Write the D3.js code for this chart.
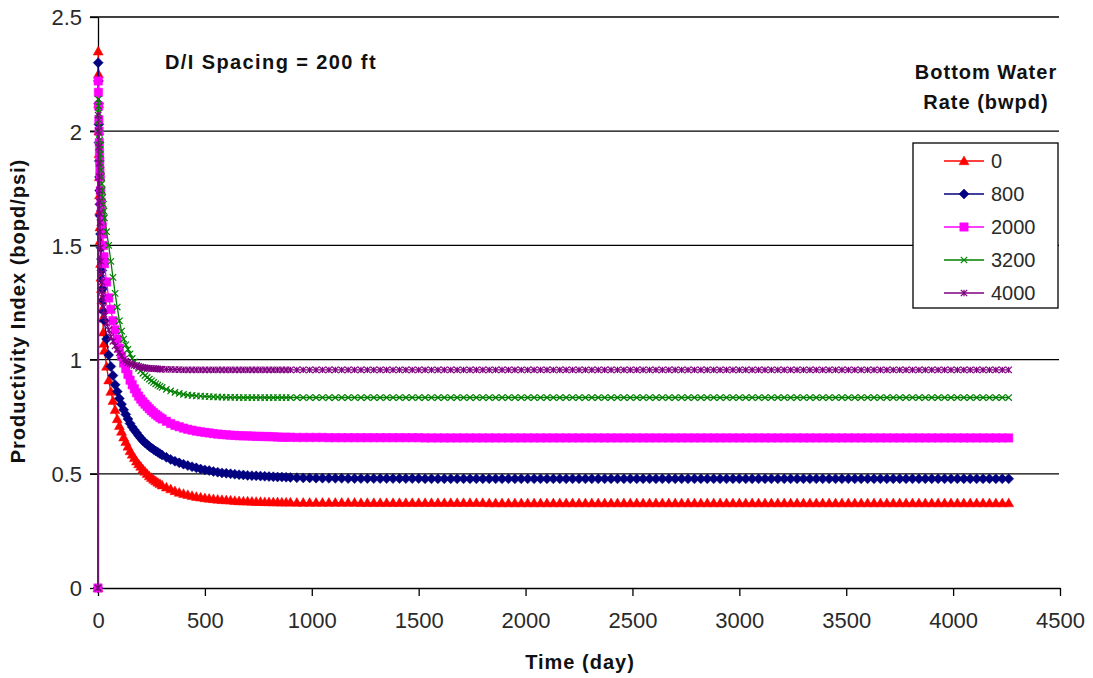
<!DOCTYPE html>
<html>
<head>
<meta charset="utf-8">
<script src="https://cdn.jsdelivr.net/npm/d3@7"></script>
<style>
  html, body { margin: 0; padding: 0; background: #fff; }
  svg { display: block; font-family: "Liberation Sans", Arial, sans-serif; }
</style>
</head>
<body>
<svg id="chart" width="1093" height="678"></svg>
<script>
// ---------------- DATA ----------------
const days = [0,1,2,3,4,5,6,7,8,9,10,12,14,16,18,20,22,25,28,
  30,40,50,60,70,80,90,100,110,120,130,140,150,160,170,180,190,200,210,220,230,240,250,260,270,280,290,300,
  320,340,360,380,400,420,440,460,480,500,520,540,560,580,600,620,640,660,680,700,720,740,760,780,800,820,840,860,880,900,
  930,960,990,1020,1050,1080,1110,1140,1170,1200,
  1230,1260,1290,1320,1350,1380,1410,1440,1470,1500,
  1530,1560,1590,1620,1650,1680,1710,1740,1770,1800,
  1830,1860,1890,1920,1950,1980,2010,2040,2070,2100,
  2130,2160,2190,2220,2250,2280,2310,2340,2370,2400,
  2430,2460,2490,2520,2550,2580,2610,2640,2670,2700,
  2730,2760,2790,2820,2850,2880,2910,2940,2970,3000,
  3030,3060,3090,3120,3150,3180,3210,3240,3270,3300,
  3330,3360,3390,3420,3450,3480,3510,3540,3570,3600,
  3630,3660,3690,3720,3750,3780,3810,3840,3870,3900,
  3930,3960,3990,4020,4050,4080,4110,4140,4170,4200,
  4230,4260];

const pi0 = [0,2.35,2.25,2.12,2.0,1.9,1.8,1.72,1.65,1.58,1.52,1.42,1.36,1.31,1.26,1.22,1.18,1.12,1.07,
  1.04,0.97,0.91,0.86,0.82,0.78,0.74,0.71,0.685,0.66,0.64,0.62,0.60,0.585,0.57,0.555,0.543,0.532,0.52,0.51,0.50,0.49,0.483,0.475,0.468,0.462,0.456,0.45,
  0.441,0.433,0.425,0.418,0.413,0.408,0.404,0.400,0.397,0.394,0.392,0.39,0.388,0.386,0.385,0.384,0.382,0.381,0.38,0.38,0.379,0.378,0.378,0.377,0.377,0.376,0.376,0.375,0.375,0.375,
  0.374,0.374,0.374,0.374,0.374,0.374,0.374,0.374,0.374,0.374,
  0.373,0.373,0.373,0.373,0.373,0.373,0.373,0.373,0.373,0.373,
  0.373,0.373,0.373,0.373,0.373,0.373,0.373,0.373,0.373,0.373,
  0.372,0.372,0.372,0.372,0.372,0.372,0.372,0.372,0.372,0.372,
  0.372,0.372,0.372,0.372,0.372,0.372,0.372,0.372,0.372,0.372,
  0.372,0.372,0.372,0.372,0.372,0.372,0.372,0.372,0.372,0.372,
  0.372,0.372,0.372,0.372,0.372,0.372,0.372,0.372,0.372,0.372,
  0.372,0.372,0.372,0.372,0.372,0.372,0.372,0.372,0.372,0.372,
  0.372,0.372,0.372,0.372,0.372,0.372,0.372,0.372,0.372,0.372,
  0.372,0.372,0.372,0.372,0.372,0.372,0.372,0.372,0.372,0.372,
  0.372,0.372,0.372,0.372,0.372,0.372,0.372,0.372,0.372,0.372,
  0.372,0.372];

const pi800 = [0,2.30,2.22,2.12,2.03,1.95,1.87,1.80,1.74,1.68,1.63,1.55,1.49,1.44,1.39,1.35,1.31,1.26,1.21,
  1.17,1.09,1.02,0.97,0.93,0.89,0.86,0.83,0.805,0.78,0.76,0.74,0.72,0.705,0.692,0.68,0.667,0.656,0.645,0.636,0.628,0.62,0.613,0.606,0.60,0.594,0.588,0.582,
  0.572,0.563,0.555,0.548,0.542,0.536,0.531,0.526,0.521,0.517,0.514,0.51,0.507,0.504,0.502,0.50,0.498,0.496,0.495,0.493,0.492,0.491,0.49,0.489,0.488,0.487,0.486,0.486,0.485,0.484,
  0.483,0.482,0.482,0.481,0.481,0.480,0.480,0.480,0.479,0.479,
  0.479,0.479,0.479,0.479,0.479,0.479,0.479,0.479,0.479,0.479,
  0.478,0.478,0.478,0.478,0.478,0.478,0.478,0.478,0.478,0.478,
  0.478,0.478,0.478,0.478,0.478,0.478,0.478,0.478,0.478,0.478,
  0.478,0.478,0.478,0.478,0.478,0.478,0.478,0.478,0.478,0.478,
  0.478,0.478,0.478,0.478,0.478,0.478,0.478,0.478,0.478,0.478,
  0.478,0.478,0.478,0.478,0.478,0.478,0.478,0.478,0.478,0.478,
  0.478,0.478,0.478,0.478,0.478,0.478,0.478,0.478,0.478,0.478,
  0.478,0.478,0.478,0.478,0.478,0.478,0.478,0.478,0.478,0.478,
  0.478,0.478,0.478,0.478,0.478,0.478,0.478,0.478,0.478,0.478,
  0.478,0.478,0.478,0.478,0.478,0.478,0.478,0.478,0.478,0.478,
  0.478,0.478];

const pi2000 = [0,2.22,2.17,2.11,2.05,2.0,1.95,1.91,1.87,1.83,1.80,1.74,1.69,1.65,1.61,1.58,1.55,1.50,1.45,
  1.42,1.34,1.27,1.22,1.17,1.13,1.09,1.05,1.015,0.985,0.96,0.935,0.91,0.89,0.872,0.855,0.84,0.827,0.815,0.805,0.795,0.785,0.776,0.768,0.76,0.753,0.746,0.74,
  0.73,0.72,0.712,0.706,0.70,0.695,0.691,0.687,0.684,0.681,0.679,0.676,0.674,0.672,0.671,0.669,0.668,0.667,0.666,0.666,0.665,0.664,0.664,0.663,0.663,0.662,0.661,0.66,0.66,0.66,
  0.659,0.659,0.659,0.659,0.659,0.658,0.658,0.658,0.658,0.658,
  0.658,0.658,0.658,0.658,0.658,0.658,0.658,0.658,0.658,0.658,
  0.657,0.657,0.657,0.657,0.657,0.657,0.657,0.657,0.657,0.657,
  0.657,0.657,0.657,0.657,0.657,0.657,0.657,0.657,0.657,0.657,
  0.657,0.657,0.657,0.657,0.657,0.657,0.657,0.657,0.657,0.657,
  0.657,0.657,0.657,0.657,0.657,0.657,0.657,0.657,0.657,0.657,
  0.657,0.657,0.657,0.657,0.657,0.657,0.657,0.657,0.657,0.657,
  0.657,0.657,0.657,0.657,0.657,0.657,0.657,0.657,0.657,0.657,
  0.657,0.657,0.657,0.657,0.657,0.657,0.657,0.657,0.657,0.657,
  0.657,0.657,0.657,0.657,0.657,0.657,0.657,0.657,0.657,0.657,
  0.657,0.657,0.657,0.657,0.657,0.657,0.657,0.657,0.657,0.657,
  0.657,0.657];

const pi3200 = [0,2.14,2.11,2.08,2.05,2.02,1.99,1.96,1.94,1.92,1.90,1.86,1.83,1.80,1.77,1.74,1.71,1.68,1.65,
  1.62,1.56,1.50,1.43,1.36,1.29,1.23,1.17,1.125,1.09,1.065,1.045,1.025,1.005,0.99,0.975,0.962,0.951,0.94,0.93,0.922,0.914,0.907,0.90,0.894,0.888,0.883,0.878,
  0.87,0.863,0.857,0.852,0.848,0.845,0.843,0.841,0.84,0.839,0.838,0.837,0.836,0.836,0.835,0.835,0.835,0.834,0.834,0.834,0.834,0.834,0.834,0.834,0.834,0.834,0.834,0.834,0.834,0.834,
  0.834,0.834,0.834,0.834,0.834,0.834,0.834,0.834,0.834,0.834,
  0.834,0.834,0.834,0.834,0.834,0.834,0.834,0.834,0.834,0.834,
  0.834,0.834,0.834,0.834,0.834,0.834,0.834,0.834,0.834,0.834,
  0.834,0.834,0.834,0.834,0.834,0.834,0.834,0.834,0.834,0.834,
  0.834,0.834,0.834,0.834,0.834,0.834,0.834,0.834,0.834,0.834,
  0.834,0.834,0.834,0.834,0.834,0.834,0.834,0.834,0.834,0.834,
  0.834,0.834,0.834,0.834,0.834,0.834,0.834,0.834,0.834,0.834,
  0.834,0.834,0.834,0.834,0.834,0.834,0.834,0.834,0.834,0.834,
  0.834,0.834,0.834,0.834,0.834,0.834,0.834,0.834,0.834,0.834,
  0.834,0.834,0.834,0.834,0.834,0.834,0.834,0.834,0.834,0.834,
  0.834,0.834,0.834,0.834,0.834,0.834,0.834,0.834,0.834,0.834,
  0.834,0.834];

const pi4000 = [0,2.07,2.0,1.93,1.86,1.80,1.74,1.69,1.64,1.60,1.56,1.49,1.43,1.38,1.34,1.30,1.27,1.23,1.20,
  1.19,1.16,1.13,1.10,1.08,1.06,1.045,1.03,1.015,1.0,0.993,0.987,0.982,0.978,0.975,0.972,0.97,0.968,0.966,0.964,0.963,0.962,0.961,0.96,0.96,0.959,0.958,0.958,
  0.957,0.957,0.956,0.956,0.955,0.955,0.955,0.955,0.955,0.955,0.955,0.955,0.955,0.955,0.955,0.955,0.955,0.955,0.955,0.955,0.955,0.955,0.955,0.955,0.955,0.955,0.955,0.955,0.955,0.955,
  0.955,0.955,0.955,0.955,0.955,0.955,0.955,0.955,0.955,0.955,
  0.955,0.955,0.955,0.955,0.955,0.955,0.955,0.955,0.955,0.955,
  0.955,0.955,0.955,0.955,0.955,0.955,0.955,0.955,0.955,0.955,
  0.955,0.955,0.955,0.955,0.955,0.955,0.955,0.955,0.955,0.955,
  0.955,0.955,0.955,0.955,0.955,0.955,0.955,0.955,0.955,0.955,
  0.955,0.955,0.955,0.955,0.955,0.955,0.955,0.955,0.955,0.955,
  0.955,0.955,0.955,0.955,0.955,0.955,0.955,0.955,0.955,0.955,
  0.955,0.955,0.955,0.955,0.955,0.955,0.955,0.955,0.955,0.955,
  0.955,0.955,0.955,0.955,0.955,0.955,0.955,0.955,0.955,0.955,
  0.955,0.955,0.955,0.955,0.955,0.955,0.955,0.955,0.955,0.955,
  0.955,0.955,0.955,0.955,0.955,0.955,0.955,0.955,0.955,0.955,
  0.955,0.955];

const seriesNames = ["0", "800", "2000", "3200", "4000"];
const seriesValues = [pi0, pi800, pi2000, pi3200, pi4000];
const seriesColors = ["#FF0000", "#000080", "#FF00FF", "#008000", "#800080"];
const seriesMarkers = ["triangle", "diamond", "square", "x", "star"];

const xTicks = [0,500,1000,1500,2000,2500,3000,3500,4000,4500];
const yTicks = [0,0.5,1,1.5,2,2.5];

const titleText = "D/I Spacing = 200 ft";
const legendTitle = ["Bottom Water", "Rate (bwpd)"];
const xTitle = "Time (day)";
const yTitle = "Productivity Index (bopd/psi)";

// ---------------- CHART ----------------
const svg = d3.select("#chart");
const x = d3.scaleLinear().domain([0, 4500]).range([98, 1060]);
const y = d3.scaleLinear().domain([0, 2.5]).range([588, 17]);

// gridlines
svg.append("g").selectAll("line").data(yTicks.filter(d => d > 0)).join("line")
  .attr("x1", 90).attr("x2", 1059)
  .attr("y1", d => y(d)).attr("y2", d => y(d))
  .attr("stroke", "#000").attr("stroke-width", 1.3);

// axes
const yAxis = d3.axisLeft(y).tickValues(yTicks).tickSize(8).tickSizeOuter(0).tickPadding(8)
  .tickFormat(d3.format("~g"));
const gy = svg.append("g").attr("transform", "translate(98,0)").call(yAxis);
const xAxis = d3.axisBottom(x).tickValues(xTicks).tickSize(8).tickSizeOuter(0).tickPadding(16)
  .tickFormat(d3.format("d"));
const gx = svg.append("g").attr("transform", "translate(0,588)").call(xAxis);
[gx, gy].forEach(g => {
  g.select(".domain").attr("stroke", "#000").attr("stroke-width", 1.3);
  g.selectAll(".tick line").attr("stroke", "#000").attr("stroke-width", 1.3);
  g.selectAll(".tick text").attr("fill", "#2a2a2a")
    .style("font-size", "22px")
    .style("font-family", "'Liberation Sans', Arial, sans-serif");
});
gy.selectAll(".tick text").attr("dy", "0.36em");

// marker path
function markerPath(type, s) {
  switch (type) {
    case "triangle": return `M0,${-s}L${s},${s*0.75}L${-s},${s*0.75}Z`;
    case "diamond": return `M0,${-s}L${s},0L0,${s}L${-s},0Z`;
    case "square": return `M${-s},${-s}H${s}V${s}H${-s}Z`;
    case "x": return `M${-s},${-s}L${s},${s}M${-s},${s}L${s},${-s}`;
    case "star": return `M${-s},${-s}L${s},${s}M${-s},${s}L${s},${-s}M0,${-s}L0,${s}`;
  }
}
const markerSize = {triangle: 5, diamond: 5, square: 4.2, x: 3.2, star: 3.2};
const filled = {triangle: true, diamond: true, square: true, x: false, star: false};

const line = d3.line().x(d => x(d[0])).y(d => y(d[1]));
const plot = svg.append("g");
seriesValues.forEach((vals, i) => {
  const pts = days.map((t, j) => [t, vals[j]]);
  const g = plot.append("g");
  g.append("path").datum(pts).attr("d", line)
    .attr("fill", "none").attr("stroke", seriesColors[i]).attr("stroke-width", 1.3);
  const m = seriesMarkers[i];
  g.selectAll("path.m").data(pts).join("path").attr("class", "m")
    .attr("transform", d => `translate(${x(d[0])},${y(d[1])})`)
    .attr("d", markerPath(m, markerSize[m]))
    .attr("fill", filled[m] ? seriesColors[i] : "none")
    .attr("stroke", seriesColors[i]).attr("stroke-width", filled[m] ? 0.5 : 1.2);
});

// title text inside plot
svg.append("text").attr("x", 165).attr("y", 69).text(titleText)
  .style("font-size", "20px").style("font-weight", "bold").style("letter-spacing", "1.4px").attr("fill", "#111");

// legend title
svg.append("g").selectAll("text").data(legendTitle).join("text")
  .attr("x", 986).attr("y", (d, i) => 79 + i * 30).attr("text-anchor", "middle")
  .text(d => d).style("font-size", "20px").style("font-weight", "bold").style("letter-spacing", "1px").attr("fill", "#111");

// legend box
const lg = svg.append("g");
lg.append("rect").attr("x", 913).attr("y", 143).attr("width", 145).attr("height", 165)
  .attr("fill", "#fff").attr("stroke", "#000").attr("stroke-width", 1.3);
seriesNames.forEach((name, i) => {
  const yy = 161 + i * 33;
  lg.append("line").attr("x1", 944).attr("x2", 984).attr("y1", yy).attr("y2", yy)
    .attr("stroke", seriesColors[i]).attr("stroke-width", 1.3);
  const m = seriesMarkers[i];
  lg.append("path").attr("transform", `translate(964,${yy})`)
    .attr("d", markerPath(m, markerSize[m]))
    .attr("fill", filled[m] ? seriesColors[i] : "none")
    .attr("stroke", seriesColors[i]).attr("stroke-width", filled[m] ? 0.5 : 1.2);
  lg.append("text").attr("x", 991).attr("y", yy).attr("dy", "0.36em").text(name)
    .style("font-size", "20px").attr("fill", "#2a2a2a");
});

// axis titles
svg.append("text").attr("x", 580).attr("y", 669).attr("text-anchor", "middle").text(xTitle)
  .style("font-size", "20px").style("font-weight", "bold").style("letter-spacing", "1px").attr("fill", "#111");
svg.append("text").attr("transform", "translate(25,311) rotate(-90)").attr("text-anchor", "middle").text(yTitle)
  .style("font-size", "20px").style("font-weight", "bold").style("letter-spacing", "1px").attr("fill", "#111");
</script>
</body>
</html>
